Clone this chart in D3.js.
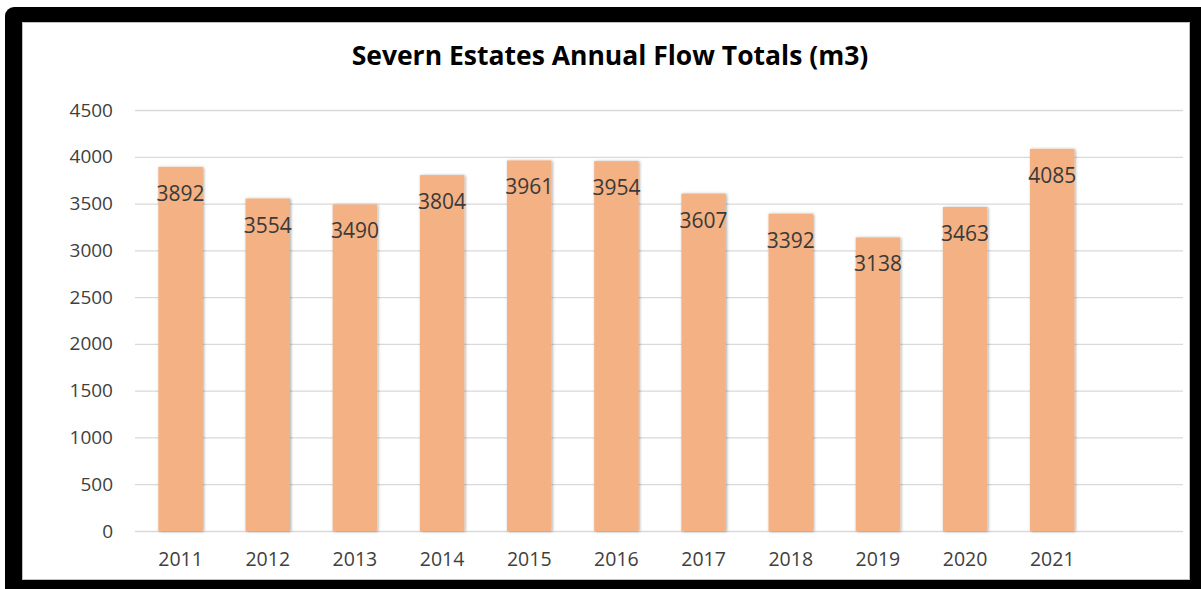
<!DOCTYPE html>
<html>
<head>
<meta charset="utf-8">
<script src="https://cdn.jsdelivr.net/npm/d3@7"></script>
<style>
  html, body { margin: 0; padding: 0; background: #fff; }
  svg { display: block; font-family: "Open Sans", "Liberation Sans", sans-serif; }
</style>
</head>
<body>
<div id="chart"></div>
<script>
// chart data
const years = ['2011', '2012', '2013', '2014', '2015', '2016', '2017', '2018', '2019', '2020', '2021'];
const flowTotals = [3892, 3554, 3490, 3804, 3961, 3954, 3607, 3392, 3138, 3463, 4085];
const yTicks = [0, 500, 1000, 1500, 2000, 2500, 3000, 3500, 4000, 4500];
const chartTitle = 'Severn Estates Annual Flow Totals (m3)';

const W = 1201, H = 589;
const FONT = '"Open Sans", "Liberation Sans", sans-serif';

// plot area (Excel leaves an empty slot after the last year)
const plot = { left: 137, right: 1183, top: 110, bottom: 531 };
const step = (plot.right - plot.left) / 12;

const svg = d3.select('#chart').append('svg')
    .attr('width', W)
    .attr('height', H);

// bar shadow
const defs = svg.append('defs');
defs.append('filter')
    .attr('id', 'barShadow')
    .attr('x', '-20%').attr('y', '-5%')
    .attr('width', '140%').attr('height', '110%')
    .append('feDropShadow')
    .attr('dx', 1).attr('dy', 0.5)
    .attr('stdDeviation', 1.6)
    .attr('flood-color', '#000')
    .attr('flood-opacity', 0.35);

// black frame + white chart area
svg.append('rect')
    .attr('x', 5).attr('y', 7)
    .attr('width', W + 20).attr('height', H + 20)
    .attr('rx', 9)
    .attr('fill', '#000');

svg.append('rect')
    .attr('x', 22.5).attr('y', 22.5)
    .attr('width', 1167).attr('height', 557)
    .attr('fill', '#fff')
    .attr('stroke', '#bfbfbf')
    .attr('stroke-width', 1);

// scales
const x = d3.scaleBand()
    .domain(years)
    .range([plot.left, plot.left + step * years.length])
    .paddingInner(0.49)
    .paddingOuter(0.245);

const y = d3.scaleLinear()
    .domain([0, 4500])
    .range([plot.bottom, plot.top]);

// gridlines + y labels
const yAxis = svg.append('g')
    .attr('transform', `translate(${plot.left - 2},0)`)
    .call(d3.axisLeft(y)
        .tickValues(yTicks)
        .tickSize(-(plot.right - plot.left + 2))
        .tickPadding(22)
        .tickFormat(d3.format('d')))
    .attr('font-family', FONT);

yAxis.select('.domain').remove();
yAxis.selectAll('.tick line')
    .attr('stroke', '#d9d9d9')
    .attr('stroke-width', 1.3);
yAxis.selectAll('.tick text')
    .attr('fill', '#404040')
    .style('font-size', '19px');

// x labels
const xAxis = svg.append('g')
    .attr('transform', `translate(0,${plot.bottom})`)
    .call(d3.axisBottom(x).tickSize(0).tickPadding(21))
    .attr('font-family', FONT);

xAxis.select('.domain').remove();
xAxis.selectAll('.tick text')
    .attr('fill', '#404040')
    .style('font-size', '19.5px');

// bars
svg.append('g')
    .selectAll('rect')
    .data(years)
    .enter()
    .append('rect')
    .attr('x', d => x(d))
    .attr('y', (d, i) => y(flowTotals[i]))
    .attr('width', x.bandwidth())
    .attr('height', (d, i) => y(0) - y(flowTotals[i]))
    .attr('fill', '#f4b183')
    .attr('filter', 'url(#barShadow)');

// value labels inside top of bars
svg.append('g')
    .selectAll('text')
    .data(years)
    .enter()
    .append('text')
    .attr('x', d => x(d) + x.bandwidth() / 2)
    .attr('y', (d, i) => y(flowTotals[i]) + 34)
    .attr('text-anchor', 'middle')
    .attr('fill', '#3a3a3a')
    .style('font-size', '21px')
    .text((d, i) => flowTotals[i]);

// title
svg.append('text')
    .attr('x', 610)
    .attr('y', 65)
    .attr('text-anchor', 'middle')
    .attr('fill', '#000')
    .style('font-size', '26.5px')
    .style('font-weight', 'bold')
    .text(chartTitle);
</script>
</body>
</html>
